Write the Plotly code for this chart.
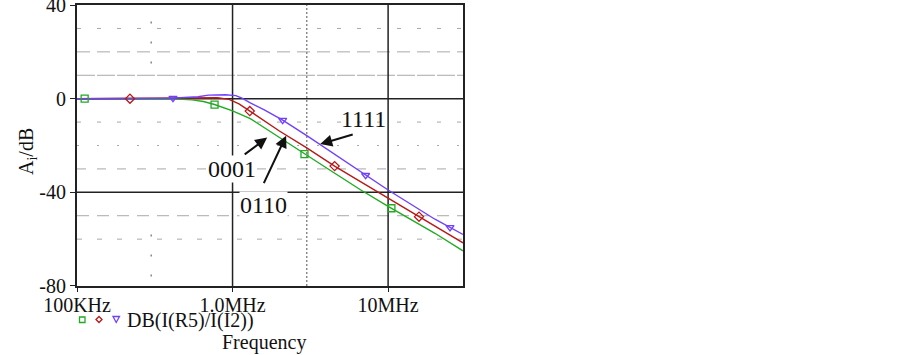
import numpy as np
import plotly.graph_objects as go

# ---------------- data ----------------
freq_green = [1e5, 3e5, 4.5e5, 5.5e5, 6.5e5, 7.66e5, 9e5, 1.0e6, 1.3e6, 1.74e6, 2.0e6, 2.84e6, 4e6, 6.6e6, 1e7, 2e7, 3.03e7]
db_green   = [0, 0, -0.2, -0.5, -1.2, -2.5, -4.0, -5.2, -8.5, -14.0, -16.5, -23.3, -29.5, -38.8, -46.0, -57.5, -65.0]

freq_red = [1e5, 5e5, 8e5, 9.5e5, 1.1e6, 1.3e6, 1.74e6, 2.0e6, 3e6, 4.53e6, 6.6e6, 1e7, 2e7, 3.03e7]
db_red   = [0, 0.3, 0.4, -0.3, -2.2, -5.4, -11.2, -13.8, -21.0, -28.8, -35.3, -42.5, -54.5, -61.6]

freq_blue = [1e5, 4e5, 6e5, 7e5, 9e5, 1.05e6, 1.15e6, 1.3e6, 1.6e6, 2.0e6, 2.1e6, 3e6, 5e6, 7.17e6, 1e7, 2e7, 3.03e7]
db_blue   = [0, 0.2, 0.8, 1.5, 1.7, 1.3, 0.2, -1.8, -4.8, -8.5, -9.2, -15.8, -25.6, -32.7, -39.0, -51.5, -58.0]

mk_freq_green = [1.12e5, 7.66e5, 2.9e6, 1.05e7]
mk_db_green   = [0, -2.5, -23.7, -46.8]
mk_freq_red = [2.19e5, 1.29e6, 4.53e6, 1.58e7]
mk_db_red   = [0, -5.3, -28.8, -50.4]
mk_freq_blue = [4.14e5, 2.1e6, 7.17e6, 2.5e7]
mk_db_blue   = [0.2, -9.2, -32.7, -55.0]

x_tickvals = [1e5, 1e6, 1e7]
x_ticktext = ["100KHz", "1.0MHz", "10MHz"]
y_tickvals = [-80, -40, 0, 40]
y_ticktext = ["-80", "-40", "0", "40"]

GREEN = "#22aa22"
RED = "#b81818"
BLUE = "#7040ff"
SERIF = "Liberation Serif, Times New Roman, serif"

fig = go.Figure()
for f, d, c in [(freq_green, db_green, GREEN), (freq_red, db_red, RED), (freq_blue, db_blue, BLUE)]:
    fig.add_trace(go.Scatter(x=f, y=d, mode="lines", line=dict(color=c, width=1.4),
                             showlegend=False, hoverinfo="skip"))
for f, d, c, s in [(mk_freq_green, mk_db_green, GREEN, "square-open"),
                   (mk_freq_red, mk_db_red, RED, "diamond-open"),
                   (mk_freq_blue, mk_db_blue, BLUE, "triangle-down-open")]:
    fig.add_trace(go.Scatter(x=f, y=d, mode="markers",
                             marker=dict(symbol=s, size=7, color=c, line=dict(color=c, width=1.3)),
                             showlegend=False, hoverinfo="skip"))

# ---------------- grid (shapes) ----------------
X0, X1 = 1e5, 3.03e7
grid_h = [(30, "4px,16px"), (20, "13px,7px"), (10, "18px,2px"),
          (-10, "4px,16px"), (-20, "2px,18px"), (-30, "9px,11px"),
          (-50, "12px,8px"), (-60, "5px,15px")]
shapes = []
for yv, dash in grid_h:
    shapes.append(dict(type="line", xref="x", yref="y", x0=X0, x1=X1, y0=yv, y1=yv,
                       line=dict(color="#a8a8a8", width=1, dash=dash), layer="below"))
shapes.append(dict(type="line", xref="x", yref="y", x0=3e6, x1=3e6, y0=-80, y1=40,
                   line=dict(color="#7a7a7a", width=1.3, dash="2px,2px"), layer="below"))
for y0, y1 in [(33, 9), (-58, -80)]:
    shapes.append(dict(type="line", xref="x", yref="y", x0=3e5, x1=3e5, y0=y0, y1=y1,
                       line=dict(color="#888888", width=1.5, dash="2px,18px"), layer="below"))
for xv in [1e6, 1e7]:
    shapes.append(dict(type="line", xref="x", yref="y", x0=xv, x1=xv, y0=-80, y1=40,
                       line=dict(color="#222222", width=1.5), layer="below"))
for yv in [0, -40]:
    shapes.append(dict(type="line", xref="x", yref="y", x0=X0, x1=X1, y0=yv, y1=yv,
                       line=dict(color="#222222", width=1.5), layer="below"))

W, H = 903, 355
L, R, T, B = 77, 440, 5, 69
pw, ph = W - L - R, H - T - B
def px(xp):
    return (xp - L) / pw
def py(yp):
    return (H - B - yp) / ph

shapes.append(dict(type="rect", xref="paper", yref="paper",
                   x0=px(79.5), x1=px(85), y0=py(322.5), y1=py(317), line=dict(color=GREEN, width=1.3)))
shapes.append(dict(type="path", xref="paper", yref="paper",
                   path=f"M {px(99)},{py(316.5)} L {px(102)},{py(319.5)} L {px(99)},{py(322.5)} L {px(96)},{py(319.5)} Z",
                   line=dict(color=RED, width=1.3)))
shapes.append(dict(type="path", xref="paper", yref="paper",
                   path=f"M {px(113)},{py(316.5)} L {px(119.5)},{py(316.5)} L {px(116.2)},{py(322.5)} Z",
                   line=dict(color=BLUE, width=1.3)))

annotations = []
for hx, hy, ax, ay in [(3.66e6, -19.4, 34, -10), (1.67e6, -16.6, -24, 18), (2.21e6, -15.8, -23, 49)]:
    annotations.append(dict(x=np.log10(hx), y=hy, xref="x", yref="y", text="", showarrow=True,
                            arrowhead=2, arrowsize=1.2, arrowwidth=2, arrowcolor="#111111",
                            ax=ax, ay=ay, axref="pixel", ayref="pixel"))
for tx, ty, txt in [(6.9e6, -8.5, "1111"), (0.993e6, -29.9, "0001"), (1.57e6, -45.3, "0110")]:
    annotations.append(dict(x=np.log10(tx), y=ty, xref="x", yref="y", text=txt, showarrow=False,
                            font=dict(family=SERIF, size=24, color="#111111"),
                            bgcolor="rgba(255,255,255,1)" if txt != "1111" else "rgba(0,0,0,0)",
                            borderpad=0))
annotations.append(dict(x=px(125), y=py(320), xref="paper", yref="paper", xanchor="left", yanchor="middle",
                        text="DB(I(R5)/I(I2))", showarrow=False, font=dict(family=SERIF, size=20, color="#111111")))
annotations.append(dict(x=px(264), y=py(342), xref="paper", yref="paper", xanchor="center", yanchor="middle",
                        text="Frequency", showarrow=False, font=dict(family=SERIF, size=20, color="#111111")))
annotations.append(dict(x=px(27), y=py(152), xref="paper", yref="paper", xanchor="center", yanchor="middle",
                        text="A<sub>i</sub>/dB", textangle=-90, showarrow=False,
                        font=dict(family=SERIF, size=20, color="#111111")))

fig.update_layout(
    width=W, height=H,
    margin=dict(l=L, r=R, t=T, b=B, autoexpand=False),
    paper_bgcolor="white", plot_bgcolor="white",
    shapes=shapes, annotations=annotations,
    xaxis=dict(type="log", range=[5, np.log10(X1)], tickvals=x_tickvals, ticktext=x_ticktext,
               showgrid=False, zeroline=False, showline=True, linecolor="#222222", linewidth=2,
               mirror=True, ticks="outside", ticklen=4, tickcolor="#222222", automargin=False,
               ticklabelstandoff=-4, ticklabeloverflow="allow",
               tickfont=dict(family=SERIF, size=20, color="#111111")),
    yaxis=dict(range=[-80.02, 40.02], tickvals=y_tickvals, ticktext=y_ticktext, showgrid=False, zeroline=False,
               showline=True, linecolor="#222222", linewidth=2, mirror=True, automargin=False,
               ticks="outside", ticklen=5, tickcolor="#222222", ticklabeloverflow="allow",
               tickfont=dict(family=SERIF, size=20, color="#111111")),
)

fig.write_html("out.html", post_script="document.body.style.margin='0px';",
               config={"displayModeBar": False})
